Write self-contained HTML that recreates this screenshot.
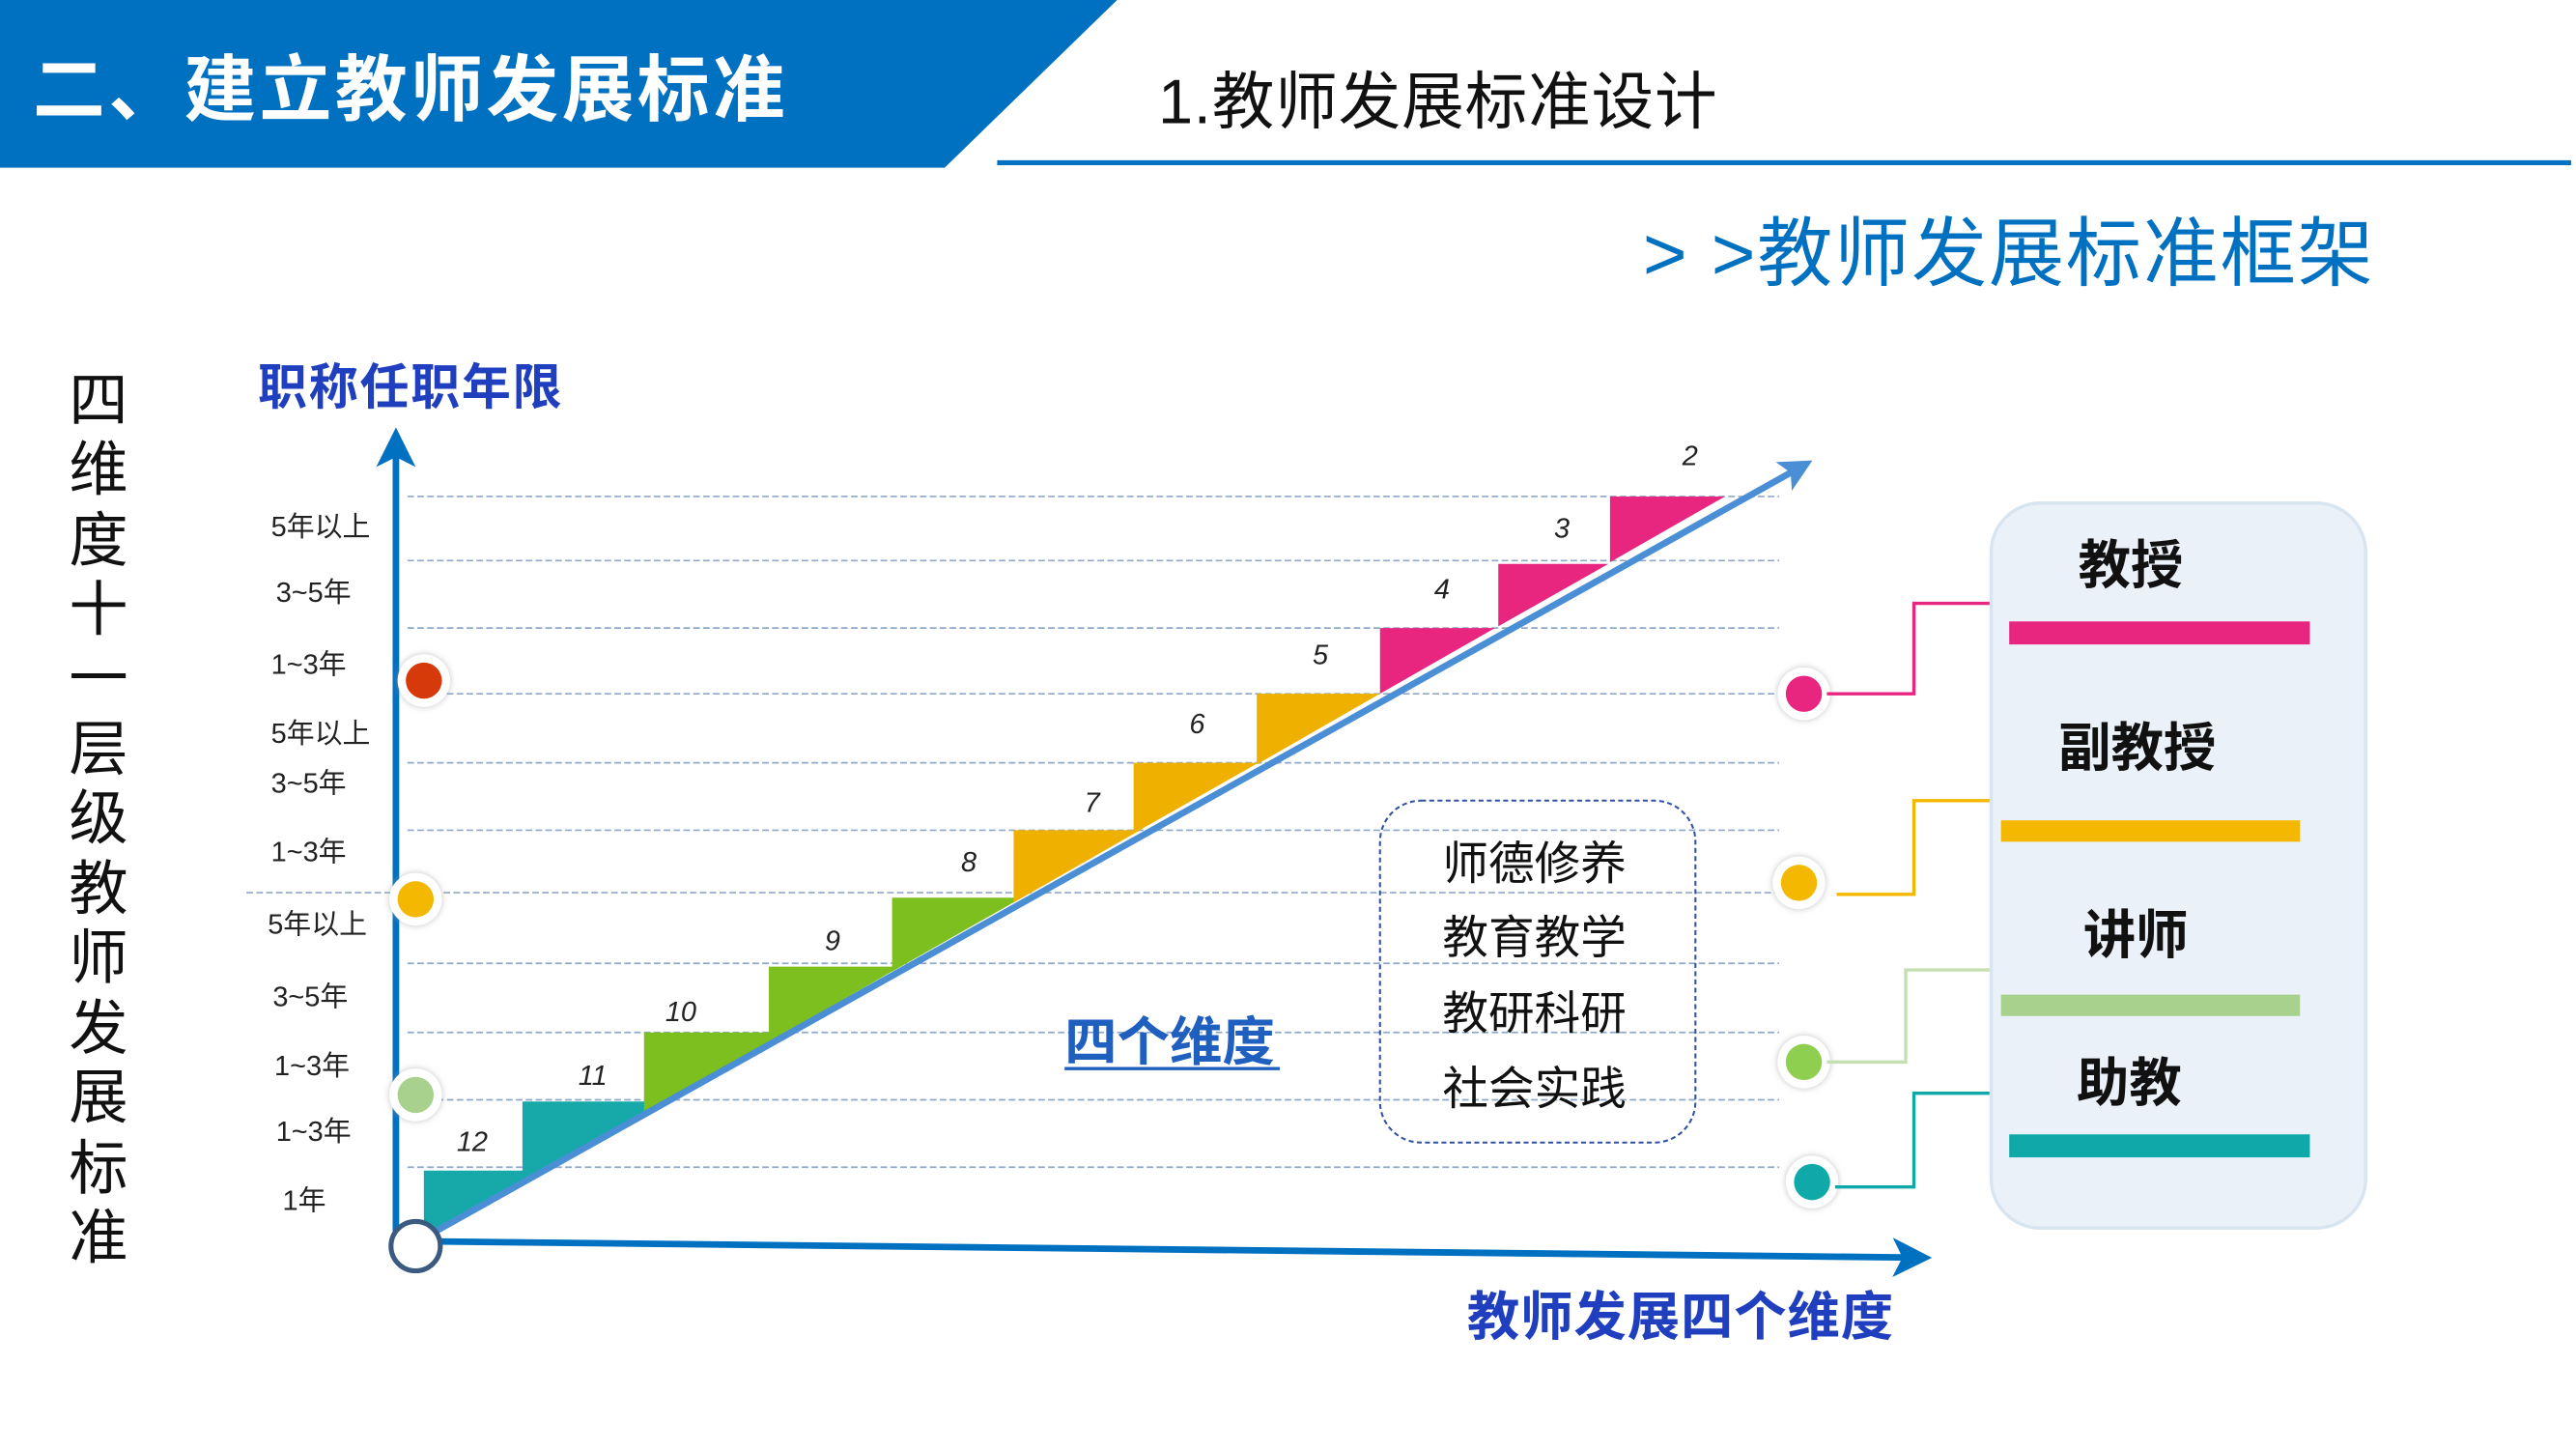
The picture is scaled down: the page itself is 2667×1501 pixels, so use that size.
<!DOCTYPE html>
<html><head><meta charset="utf-8"><style>
html,body{margin:0;padding:0;background:#fff;}
svg{display:block;font-family:"Liberation Sans","Noto Sans CJK SC",sans-serif;}
</style></head><body>
<svg width="2667" height="1501" viewBox="0 0 1568 882" preserveAspectRatio="none" xmlns="http://www.w3.org/2000/svg">
<defs>
<marker id="ar" markerWidth="6" markerHeight="6" refX="4.5" refY="3" orient="auto" markerUnits="strokeWidth"><path d="M0,0 L6,3 L0,6 L1.5,3 Z" fill="#0070c0"/></marker>
<marker id="ar2" markerWidth="5" markerHeight="5" refX="3.5" refY="2.5" orient="auto" markerUnits="strokeWidth"><path d="M0,0 L5,2.5 L0,5 L1.2,2.5 Z" fill="#4a8fd5"/></marker>
<filter id="sh"><feDropShadow dx="0" dy="0" stdDeviation="2" flood-color="#999" flood-opacity="0.6"/></filter>
</defs>
<polygon points="0,0 680,0 575,102 0,102" fill="#0070c0"/>
<text x="20" y="70" font-size="44" font-weight="bold" fill="#fff" letter-spacing="2">二、建立教师发展标准</text>
<text x="705" y="75" font-size="38" fill="#111" letter-spacing="0.5">1.教师发展标准设计</text>
<line x1="607" y1="99" x2="1565" y2="99" stroke="#0070c0" stroke-width="3"/>
<text x="1000" y="170" font-size="46" fill="#0070c0" letter-spacing="1">&gt; &gt;教师发展标准框架</text>
<g font-size="36" fill="#111" text-anchor="middle">
<text x="60" y="256">四</text><text x="60" y="298">维</text><text x="60" y="341">度</text><text x="60" y="383">十</text><text x="60" y="425">一</text><text x="60" y="468">层</text><text x="60" y="510">级</text><text x="60" y="553">教</text><text x="60" y="595">师</text><text x="60" y="638">发</text><text x="60" y="680">展</text><text x="60" y="723">标</text><text x="60" y="765">准</text>
</g>
<text x="157" y="246" font-size="30" font-weight="bold" fill="#1f3fbf" letter-spacing="1">职称任职年限</text>
<g stroke="#8fa8c8" stroke-width="1" stroke-dasharray="4,2">
<line x1="248" y1="302" x2="1083" y2="302"/><line x1="248" y1="341" x2="1083" y2="341"/><line x1="248" y1="382" x2="1083" y2="382"/><line x1="248" y1="422" x2="1083" y2="422"/><line x1="248" y1="464" x2="1083" y2="464"/><line x1="248" y1="505" x2="1083" y2="505"/><line x1="150" y1="543" x2="1083" y2="543"/><line x1="248" y1="586" x2="1083" y2="586"/><line x1="248" y1="628" x2="1083" y2="628"/><line x1="248" y1="669" x2="1083" y2="669"/><line x1="248" y1="710" x2="1083" y2="710"/>
</g>
<g font-size="17" fill="#222">
<text x="165" y="326">5年以上</text><text x="168" y="366">3~5年</text><text x="165" y="410">1~3年</text><text x="165" y="452">5年以上</text><text x="165" y="482">3~5年</text><text x="165" y="524">1~3年</text><text x="163" y="568">5年以上</text><text x="166" y="612">3~5年</text><text x="167" y="654">1~3年</text><text x="168" y="694">1~3年</text><text x="172" y="736">1年</text>
</g>
<g>
<polygon points="258,712 330,712 258,753" fill="#17a9a9"/>
<polygon points="318,670 404,670 318,719" fill="#17a9a9"/>
<polygon points="392,628 478,628 392,677" fill="#7dbf1f"/>
<polygon points="468,588 548,588 468,634" fill="#7dbf1f"/>
<polygon points="543,546 622,546 543,591" fill="#7dbf1f"/>
<polygon points="617,505 694,505 617,549" fill="#f0b000"/>
<polygon points="690,464 766,464 690,507" fill="#f0b000"/>
<polygon points="765,422 840,422 765,465" fill="#f0b000"/>
<polygon points="840,382 910,382 840,422" fill="#e8257f"/>
<polygon points="912,343 979,343 912,381" fill="#e8257f"/>
<polygon points="980,302 1050,302 980,342" fill="#e8257f"/>
</g>
<line x1="258" y1="753" x2="1098" y2="283" stroke="#4a8fd5" stroke-width="4" marker-end="url(#ar2)"/>
<g font-size="17" font-style="italic" fill="#222">
<text x="278" y="700">12</text><text x="352" y="660">11</text><text x="405" y="621">10</text><text x="502" y="578">9</text><text x="585" y="530">8</text><text x="660" y="494">7</text><text x="724" y="446">6</text><text x="799" y="404">5</text><text x="873" y="364">4</text><text x="946" y="327">3</text><text x="1024" y="283">2</text>
</g>
<line x1="241" y1="760" x2="241" y2="266" stroke="#0070c0" stroke-width="4" marker-end="url(#ar)"/>
<line x1="253" y1="755" x2="1170" y2="765" stroke="#0070c0" stroke-width="4" marker-end="url(#ar)"/>
<circle cx="253" cy="758" r="15" fill="#fff" stroke="#3a5a80" stroke-width="3"/>
<g filter="url(#sh)">
<circle cx="258" cy="414" r="16" fill="#fff"/><circle cx="253" cy="547" r="16" fill="#fff"/><circle cx="253" cy="666" r="16" fill="#fff"/>
<circle cx="1098" cy="422" r="16" fill="#fff"/><circle cx="1095" cy="537" r="16" fill="#fff"/><circle cx="1098" cy="646" r="16" fill="#fff"/><circle cx="1103" cy="719" r="16" fill="#fff"/>
</g>
<circle cx="258" cy="414" r="11" fill="#d63a0a"/><circle cx="253" cy="547" r="11" fill="#f5b800"/><circle cx="253" cy="666" r="11" fill="#a9d18e"/>
<circle cx="1098" cy="422" r="11" fill="#e8257f"/><circle cx="1095" cy="537" r="11" fill="#f5b800"/><circle cx="1098" cy="646" r="11" fill="#8fcf4f"/><circle cx="1103" cy="719" r="11" fill="#10a9a9"/>
<text x="648" y="645" font-size="32" font-weight="bold" fill="#1f5fbf">四个维度</text>
<line x1="648" y1="650" x2="779" y2="650" stroke="#1f5fbf" stroke-width="2"/>
<rect x="840" y="487" width="192" height="208" rx="25" fill="none" stroke="#3050a0" stroke-width="1.2" stroke-dasharray="3,2"/>
<g font-size="28" fill="#111">
<text x="878" y="535">师德修养</text><text x="878" y="580">教育教学</text><text x="878" y="626">教研科研</text><text x="878" y="672">社会实践</text>
</g>
<g fill="none" stroke-width="2">
<polyline points="1112,422 1165,422 1165,367 1212,367" stroke="#e8257f"/>
<polyline points="1118,544 1165,544 1165,487 1212,487" stroke="#f5b800"/>
<polyline points="1112,646 1160,646 1160,590 1212,590" stroke="#c5e0b0"/>
<polyline points="1117,722 1165,722 1165,665 1212,665" stroke="#10a9a9"/>
</g>
<rect x="1212" y="306" width="228" height="441" rx="30" fill="#eaf1f9" stroke="#d8e4f0" stroke-width="2"/>
<g font-size="32" font-weight="bold" fill="#111">
<text x="1265" y="355">教授</text><text x="1253" y="466">副教授</text><text x="1268" y="580">讲师</text><text x="1264" y="670">助教</text>
</g>
<rect x="1223" y="378" width="183" height="14" fill="#e8257f"/>
<rect x="1218" y="499" width="182" height="13" fill="#f5b800"/>
<rect x="1218" y="605" width="182" height="13" fill="#a9d18e"/>
<rect x="1223" y="690" width="183" height="14" fill="#10a9a9"/>
<text x="893" y="812" font-size="32" font-weight="bold" fill="#1f3fbf" letter-spacing="0.5">教师发展四个维度</text>
</svg>
</body></html>
